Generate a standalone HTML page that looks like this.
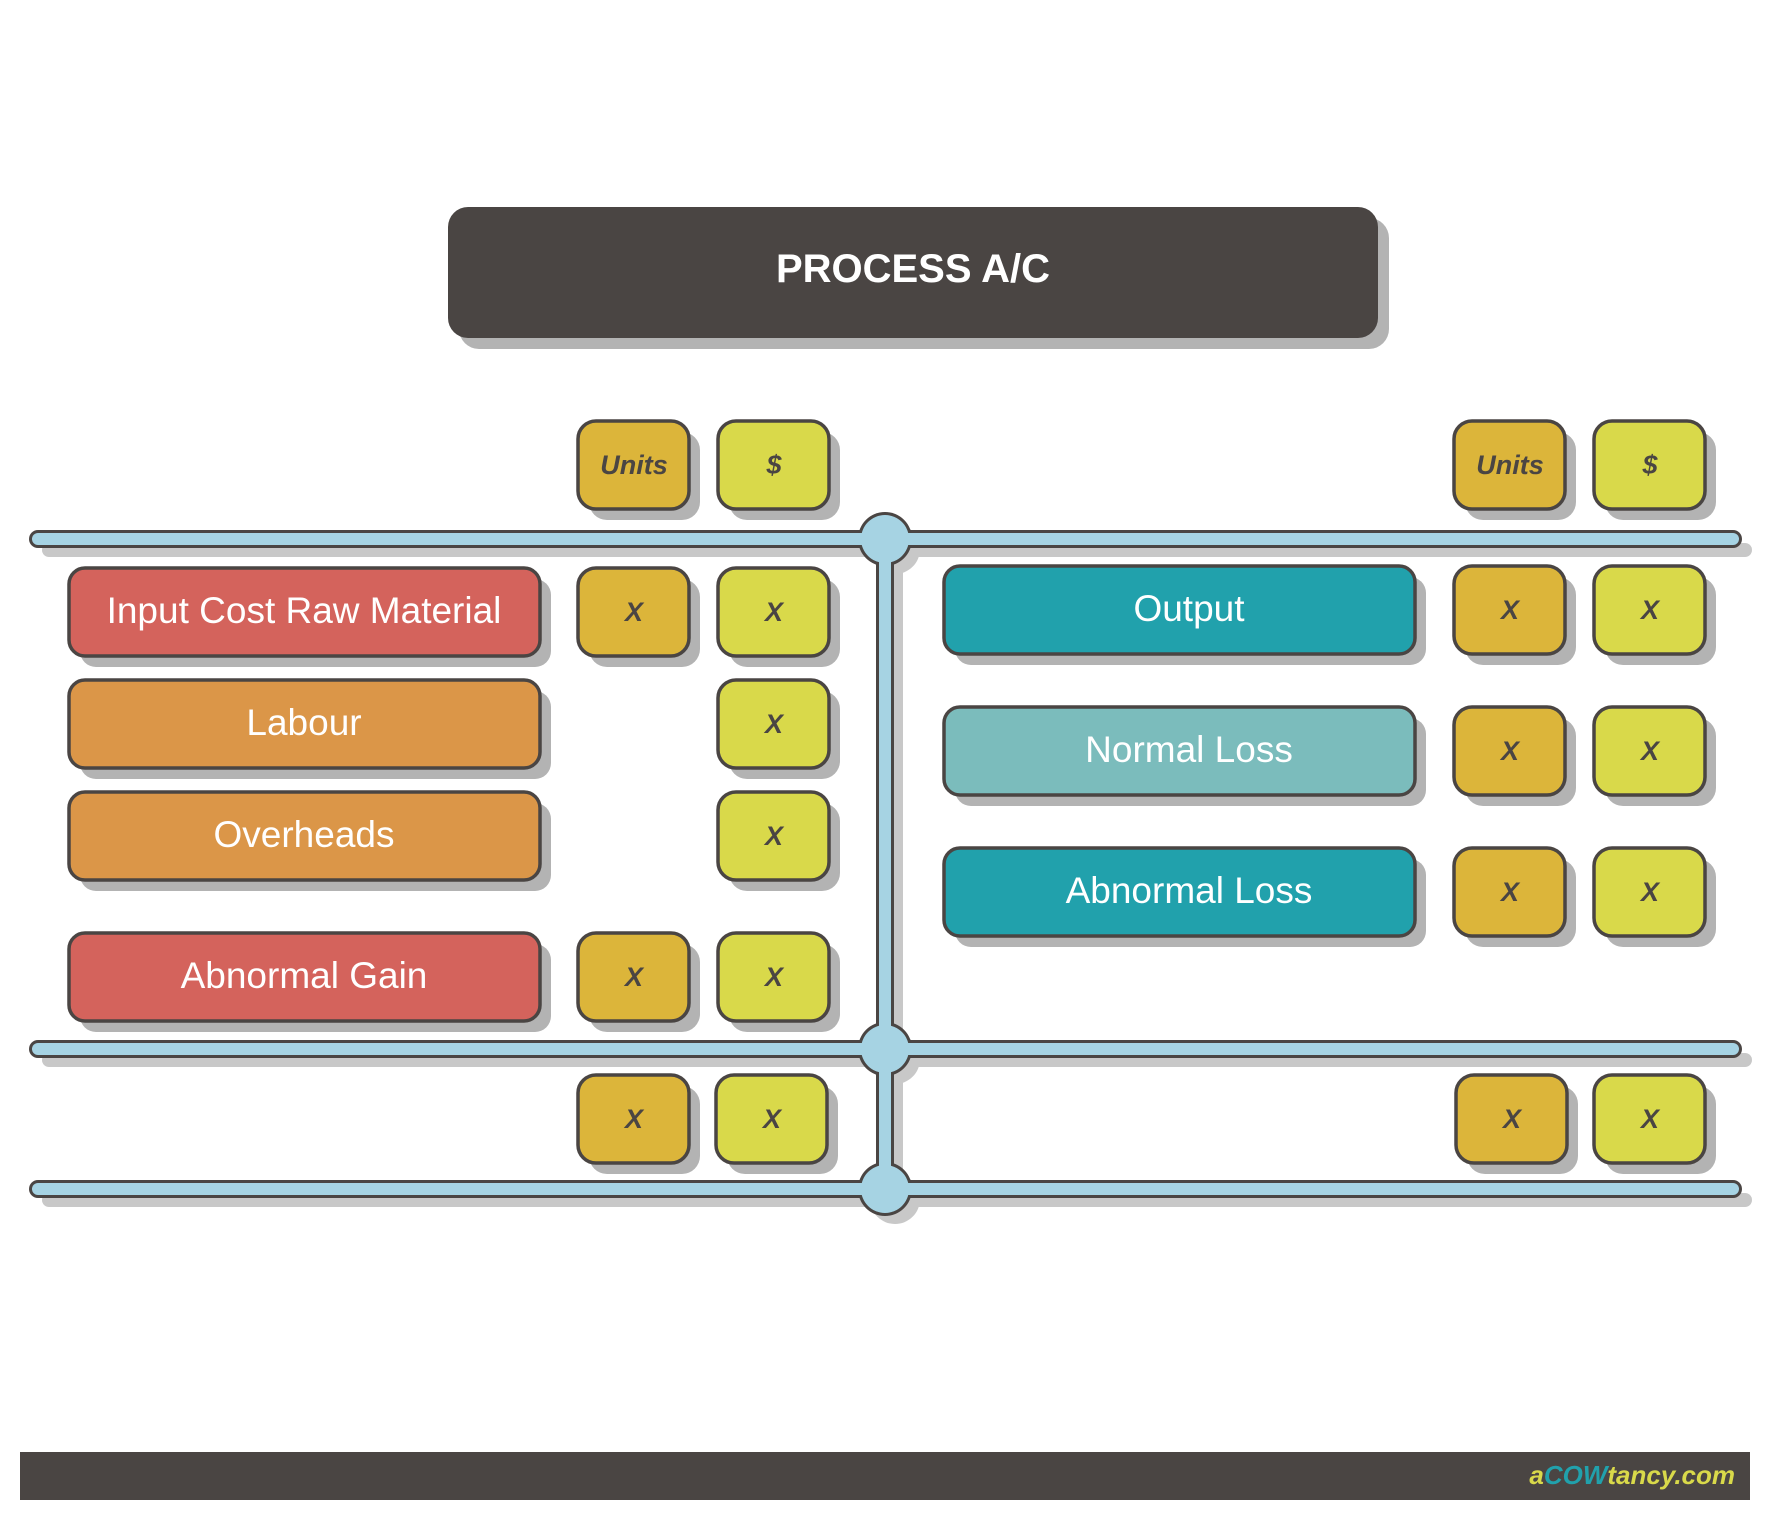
<!DOCTYPE html>
<html><head><meta charset="utf-8"><style>
html,body{margin:0;padding:0;background:#fff;}
svg{display:block;}
.lbl{font-family:"Liberation Sans",sans-serif;fill:#fff;font-size:37px;text-anchor:middle;}
.sm{font-family:"Liberation Sans",sans-serif;fill:#4a4543;font-size:27px;font-weight:bold;font-style:italic;text-anchor:middle;}
</style></head><body>
<svg width="1771" height="1521" viewBox="0 0 1771 1521" xmlns="http://www.w3.org/2000/svg">
<rect width="1771" height="1521" fill="#fff"/>
<!-- title -->
<rect x="459" y="218" width="930" height="131" rx="20" fill="#b3b3b3"/>
<rect x="448" y="207" width="930" height="131" rx="20" fill="#4a4543"/>
<text x="913" y="282" font-family="Liberation Sans,sans-serif" font-weight="bold" font-size="40" fill="#fff" text-anchor="middle">PROCESS A/C</text>

<!-- pipe shadows -->
<g fill="#c8c8c8">
<rect x="42" y="543" width="1710" height="14" rx="7"/>
<rect x="42" y="1053" width="1710" height="14" rx="7"/>
<rect x="42" y="1193" width="1710" height="14" rx="7"/>
<rect x="889" y="549" width="14" height="650"/>
<circle cx="895" cy="549" r="25"/><circle cx="895" cy="1059" r="25"/><circle cx="895" cy="1199" r="25"/>
</g>
<!-- pipe outlines -->
<g fill="#4a4543">
<rect x="29" y="530" width="1713" height="18" rx="9"/>
<rect x="29" y="1040" width="1713" height="18" rx="9"/>
<rect x="29" y="1180" width="1713" height="18" rx="9"/>
<rect x="876" y="539" width="18" height="650"/>
<circle cx="885" cy="539" r="27"/><circle cx="885" cy="1049" r="27"/><circle cx="885" cy="1189" r="27"/>
</g>
<g fill="#a6d3e3">
<rect x="32" y="533" width="1707" height="12" rx="6"/>
<rect x="32" y="1043" width="1707" height="12" rx="6"/>
<rect x="32" y="1183" width="1707" height="12" rx="6"/>
<rect x="879" y="539" width="12" height="650"/>
<circle cx="885" cy="539" r="24"/><circle cx="885" cy="1049" r="24"/><circle cx="885" cy="1189" r="24"/>
</g>

<!-- big labels -->
<g stroke="#4a4543" stroke-width="3.5">
<g fill="#b3b3b3" stroke="none">
<rect x="80" y="579" width="471" height="88" rx="16"/>
<rect x="80" y="691" width="471" height="88" rx="16"/>
<rect x="80" y="803" width="471" height="88" rx="16"/>
<rect x="80" y="944" width="471" height="88" rx="16"/>
<rect x="955" y="577" width="471" height="88" rx="16"/>
<rect x="955" y="718" width="471" height="88" rx="16"/>
<rect x="955" y="859" width="471" height="88" rx="16"/>
</g>
<rect x="69" y="568" width="471" height="88" rx="16" fill="#d4635c"/>
<rect x="69" y="680" width="471" height="88" rx="16" fill="#db9648"/>
<rect x="69" y="792" width="471" height="88" rx="16" fill="#db9648"/>
<rect x="69" y="933" width="471" height="88" rx="16" fill="#d4635c"/>
<rect x="944" y="566" width="471" height="88" rx="16" fill="#21a1ac"/>
<rect x="944" y="707" width="471" height="88" rx="16" fill="#7bbcbc"/>
<rect x="944" y="848" width="471" height="88" rx="16" fill="#21a1ac"/>
</g>
<text class="lbl" x="304" y="623">Input Cost Raw Material</text>
<text class="lbl" x="304" y="735">Labour</text>
<text class="lbl" x="304" y="847">Overheads</text>
<text class="lbl" x="304" y="988">Abnormal Gain</text>
<text class="lbl" x="1189" y="621">Output</text>
<text class="lbl" x="1189" y="762">Normal Loss</text>
<text class="lbl" x="1189" y="903">Abnormal Loss</text>

<!-- small boxes -->
<defs>
<g id="u"><rect x="11" y="11" width="111" height="88" rx="18" fill="#b3b3b3"/><rect x="0" y="0" width="111" height="88" rx="18" fill="#dcb53a" stroke="#4a4543" stroke-width="3.5"/></g>
<g id="d"><rect x="11" y="11" width="111" height="88" rx="18" fill="#b3b3b3"/><rect x="0" y="0" width="111" height="88" rx="18" fill="#d9d94a" stroke="#4a4543" stroke-width="3.5"/></g>
</defs>
<use href="#u" x="578" y="421"/><use href="#d" x="718" y="421"/>
<use href="#u" x="1454" y="421"/><use href="#d" x="1594" y="421"/>
<use href="#u" x="578" y="568"/><use href="#d" x="718" y="568"/>
<use href="#d" x="718" y="680"/>
<use href="#d" x="718" y="792"/>
<use href="#u" x="578" y="933"/><use href="#d" x="718" y="933"/>
<use href="#u" x="578" y="1075"/><use href="#d" x="716" y="1075"/>
<use href="#u" x="1454" y="566"/><use href="#d" x="1594" y="566"/>
<use href="#u" x="1454" y="707"/><use href="#d" x="1594" y="707"/>
<use href="#u" x="1454" y="848"/><use href="#d" x="1594" y="848"/>
<use href="#u" x="1456" y="1075"/><use href="#d" x="1594" y="1075"/>

<text class="sm" x="634" y="474">Units</text><text class="sm" x="774" y="474">$</text>
<text class="sm" x="1510" y="474">Units</text><text class="sm" x="1650" y="474">$</text>
<text class="sm" x="634" y="621">X</text><text class="sm" x="774" y="621">X</text>
<text class="sm" x="774" y="733">X</text>
<text class="sm" x="774" y="845">X</text>
<text class="sm" x="634" y="986">X</text><text class="sm" x="774" y="986">X</text>
<text class="sm" x="634" y="1128">X</text><text class="sm" x="772" y="1128">X</text>
<text class="sm" x="1510" y="619">X</text><text class="sm" x="1650" y="619">X</text>
<text class="sm" x="1510" y="760">X</text><text class="sm" x="1650" y="760">X</text>
<text class="sm" x="1510" y="901">X</text><text class="sm" x="1650" y="901">X</text>
<text class="sm" x="1512" y="1128">X</text><text class="sm" x="1650" y="1128">X</text>

<!-- footer -->
<rect x="20" y="1452" width="1730" height="48" fill="#4a4543"/>
<text x="1735" y="1484" font-family="Liberation Sans,sans-serif" font-weight="bold" font-style="italic" font-size="26" text-anchor="end" fill="#d9d94a">a<tspan fill="#21a1ac">COW</tspan>tancy.com</text>
</svg>
</body></html>
